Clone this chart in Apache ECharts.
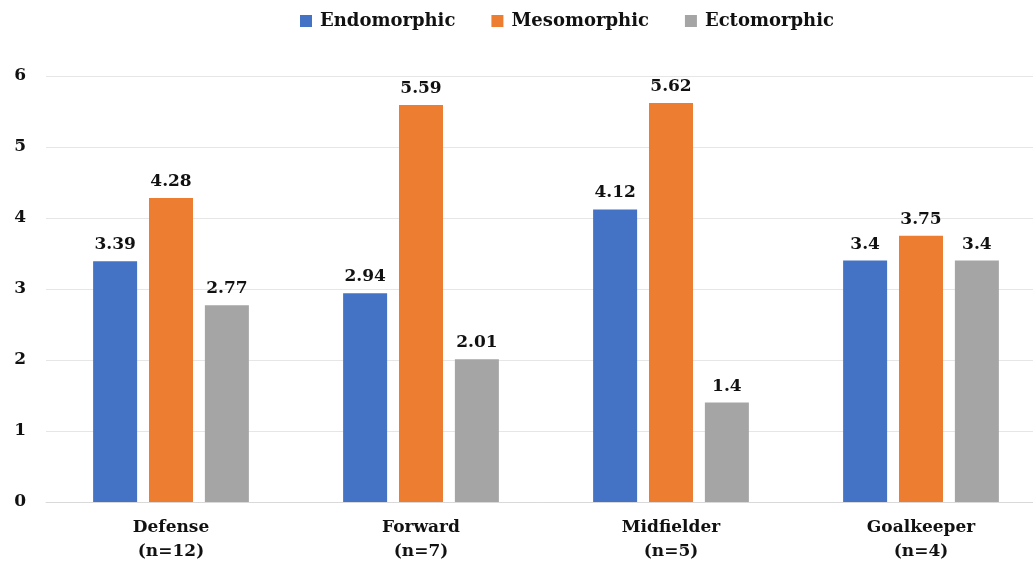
<!DOCTYPE html>
<html>
<head>
<meta charset="utf-8">
<script src="https://cdn.jsdelivr.net/npm/echarts@6/dist/echarts.min.js"></script>
<style>html,body{margin:0;padding:0;background:#fff;}#c{width:1033px;height:570px;}</style>
</head>
<body>
<div id="c"></div>
<script>
const categories = ['Defense\n(n=12)', 'Forward\n(n=7)', 'Midfielder\n(n=5)', 'Goalkeeper\n(n=4)'];
const endomorphic = [3.39, 2.94, 4.12, 3.4];
const mesomorphic = [4.28, 5.59, 5.62, 3.75];
const ectomorphic = [2.77, 2.01, 1.4, 3.4];
const yTicks = [0, 1, 2, 3, 4, 5, 6];

const FONT = '"DejaVu Serif", "Liberation Serif", serif';
const chart = echarts.init(document.getElementById('c'));
const lbl = {show: true, position: 'top', distance: 8, fontFamily: FONT, fontWeight: 'bold', fontSize: 17, color: '#111'};
function s(name, data, color) {
  return {name, type: 'bar', data, barWidth: 44, barGap: '27%', itemStyle: {color}, label: lbl};
}
chart.setOption({
  animation: false,
  textStyle: {fontFamily: FONT},
  legend: {
    top: 7, left: 295, itemWidth: 12, itemHeight: 12, itemGap: 36, icon: 'rect',
    textStyle: {fontFamily: FONT, fontWeight: 'bold', fontSize: 18, color: '#111', padding: [0, 0, 0, 3]}
  },
  grid: {left: 46, width: 1000, top: 76, bottom: 68, containLabel: false, outerBoundsMode: 'none'},
  xAxis: {
    type: 'category', data: categories,
    axisLine: {lineStyle: {color: '#d9d9d9'}}, axisTick: {show: false},
    axisLabel: {fontFamily: FONT, fontWeight: 'bold', fontSize: 17, color: '#111', lineHeight: 24, margin: 14}
  },
  yAxis: {
    type: 'value', min: yTicks[0], max: yTicks[yTicks.length - 1], interval: 1,
    axisLine: {show: false}, axisTick: {show: false},
    splitLine: {lineStyle: {color: '#e6e6e6'}},
    axisLabel: {fontFamily: FONT, fontWeight: 'bold', fontSize: 17, color: '#111', margin: 20}
  },
  series: [
    s('Endomorphic', endomorphic, '#4472C4'),
    s('Mesomorphic', mesomorphic, '#ED7D31'),
    s('Ectomorphic', ectomorphic, '#A5A5A5')
  ]
});
</script>
</body>
</html>
